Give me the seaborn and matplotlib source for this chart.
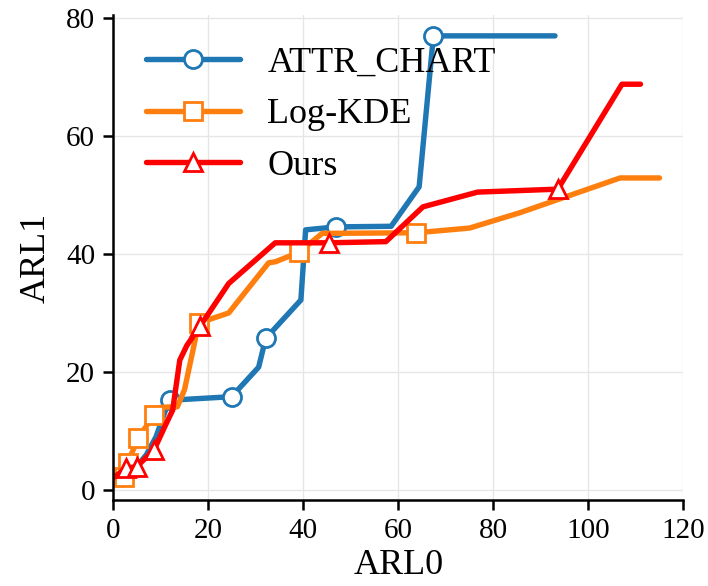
import numpy as np
import pandas as pd
import seaborn as sns
import matplotlib
matplotlib.use("Agg")
import matplotlib.pyplot as plt

# ARL0 / ARL1 curves for each method
attr_x = [1.5, 3.0, 5.5, 7.0, 9.0, 11.0, 12.0, 24.9, 30.6, 32.1, 39.5, 40.5, 46.9, 58.5, 64.4, 67.4, 93.0]
attr_y = [2.5, 3.5, 4.5, 6.0, 9.0, 13.5, 15.2, 15.8, 20.8, 25.7, 32.2, 44.1, 44.6, 44.7, 51.4, 77.0, 77.0]
attr_marks = [6, 7, 9, 12, 15]

kde_x = [1.0, 2.3, 3.0, 5.3, 8.5, 10.0, 13.5, 15.0, 18.0, 24.3, 32.7, 34.2, 39.1, 44.0, 63.8, 75.0, 85.6, 106.7, 115.0]
kde_y = [2.0, 2.2, 4.6, 8.8, 12.7, 14.0, 14.1, 17.0, 28.3, 30.0, 38.5, 38.7, 40.3, 43.5, 43.6, 44.4, 47.0, 52.9, 52.9]
kde_marks = [1, 2, 3, 4, 8, 12, 14]

ours_x = [0.3, 2.7, 4.9, 8.6, 11.0, 12.5, 14.0, 15.5, 18.3, 24.3, 34.1, 45.4, 57.4, 65.2, 76.7, 93.6, 107.1, 111.0]
ours_y = [2.2, 3.7, 3.9, 6.8, 11.0, 13.5, 22.0, 24.5, 27.8, 35.0, 41.9, 41.9, 42.1, 48.0, 50.5, 51.0, 68.8, 68.8]
ours_marks = [1, 2, 3, 8, 11, 15]

series = [
    ("ATTR_CHART", attr_x, attr_y, attr_marks, "#1f77b4", "o"),
    ("Log-KDE", kde_x, kde_y, kde_marks, "#ff7f0e", "s"),
    ("Ours", ours_x, ours_y, ours_marks, "#ff0000", "^"),
]

sns.set_theme(style="ticks")
plt.rcParams["font.family"] = ["Liberation Serif", "DejaVu Serif"]
plt.rcParams["text.color"] = "black"
plt.rcParams["axes.labelcolor"] = "black"

fig = plt.figure(figsize=(7.08, 5.86), dpi=100)
ax = fig.add_axes([0.160, 0.147, 0.805, 0.827])

for name, xs, ys, marks, color, mk in series:
    df = pd.DataFrame({"ARL0": xs, "ARL1": ys})
    sns.lineplot(data=df, x="ARL0", y="ARL1", ax=ax, sort=False, estimator=None,
                 color=color, linewidth=3.9, marker=mk, markevery=marks,
                 markersize=13, markerfacecolor="white", markeredgecolor=color,
                 markeredgewidth=2.0, label=name)

ax.set_xlim(0, 120)
ax.set_ylim(-1.7, 80.5)
ax.set_xticks(np.arange(0, 121, 20))
ax.set_yticks(np.arange(0, 81, 20))
ax.grid(True, color="#e6e6e6", linewidth=1.0)
sns.despine(ax=ax)
for s in ["left", "bottom"]:
    ax.spines[s].set_linewidth(1.8)
    ax.spines[s].set_color("black")
ax.tick_params(axis="both", labelsize=21, width=1.8, length=7, pad=6,
               direction="out", colors="black")
ax.set_xlabel("ARL0", fontsize=26, labelpad=4, color="black")
ax.set_ylabel("ARL1", fontsize=26, labelpad=10, color="black")

leg = ax.legend(loc="upper left", frameon=False, fontsize=26, handlelength=2.6,
                handletextpad=0.75, labelspacing=0.5, borderaxespad=0.2,
                bbox_to_anchor=(0.02, 0.98))
for t in leg.get_texts():
    t.set_color("black")

fig.savefig("out.png", dpi=100)
